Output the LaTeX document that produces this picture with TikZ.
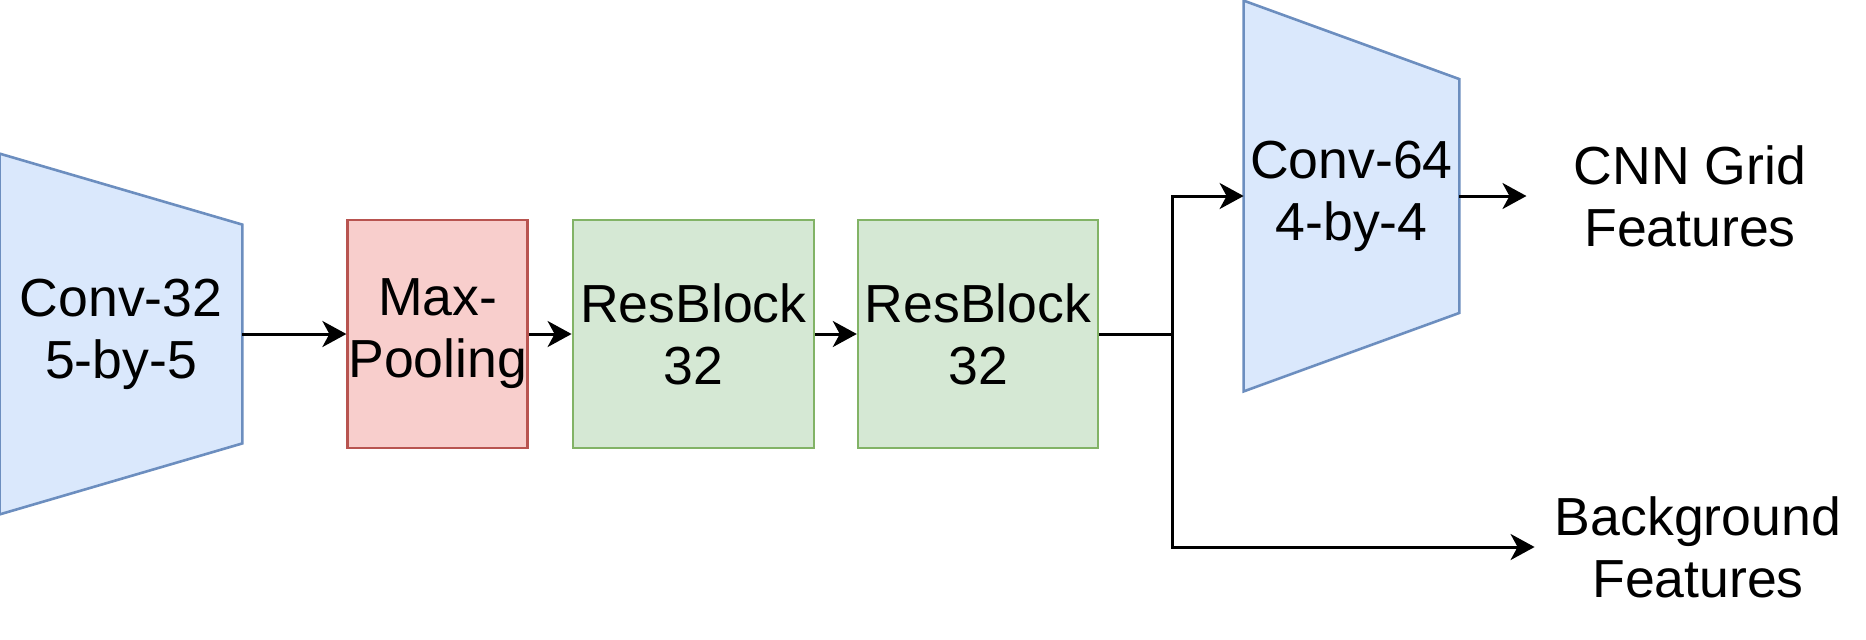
\documentclass[tikz,border=0pt]{standalone}
\usepackage{fontspec}
\setmainfont{Liberation Sans}
\usetikzlibrary{arrows.meta,positioning,backgrounds}
\definecolor{convblue}{HTML}{DAE8FC}
\definecolor{convedge}{HTML}{6C8EBF}
\definecolor{poolred}{HTML}{F8CECC}
\definecolor{pooledge}{HTML}{B85450}
\definecolor{resgreen}{HTML}{D5E8D4}
\definecolor{resedge}{HTML}{82B366}

\begin{document}
\begin{tikzpicture}[x=1pt,y=-1pt,
          every node/.style={font=\fontsize{26.8}{31}\selectfont,align=center,inner sep=0pt},
          box/.style={draw,line width=1.3pt,minimum height=114pt},
          trap/.style={draw=convedge,fill=convblue,line width=1.3pt,line join=miter},
          arr/.style={line width=1.5pt,-{Stealth[length=12pt,width=13pt,inset=3.5pt]}},
          wire/.style={line width=1.5pt}]
        \useasboundingbox (0,0) rectangle (933,319.5);
        % encoder
        \node[minimum width=121pt,minimum height=180pt] (c32) at (60.5,167) {Conv-32\\5-by-5};
        \node[box,fill=poolred,draw=pooledge,minimum width=90pt,right=52pt of c32] (pool) {Max-\\Pooling};
        \node[box,fill=resgreen,draw=resedge,minimum width=120.5pt,right=21.3pt of pool] (rb1) {ResBlock\\32};
        \node[box,fill=resgreen,draw=resedge,minimum width=120pt,right=20.8pt of rb1] (rb2) {ResBlock\\32};
        \coordinate (split) at (586,167);
        \node[minimum width=107.5pt,minimum height=195pt] (c64) at (675.75,98) {Conv-64\\4-by-4};
        % outputs
        \node (grid) at (845,98) {CNN Grid\\Features};
        \node (bg) at (849,273.5) {Background\\Features};
        \begin{scope}[on background layer]
          \foreach \n/\d in {c32/35.5,c64/39.25}
            \draw[trap] (\n.north west) -- ([yshift=-\d pt]\n.north east)
                 -- ([yshift=\d pt]\n.south east) -- (\n.south west) -- cycle;
        \end{scope}
        \draw[arr] (c32) -- (pool);
        \draw[arr] (pool) -- (rb1);
        \draw[arr] (rb1) -- (rb2);
        \draw[wire] (rb2) -- (split);
        \draw[arr] (split) |- (c64);
        \draw[arr,shorten >=23.5pt] (c64) -- (grid);
        \draw[arr,shorten >=10pt] (split) |- (bg);
      \end{tikzpicture}
\end{document}
